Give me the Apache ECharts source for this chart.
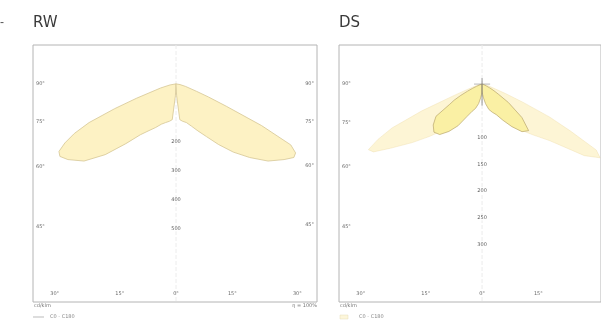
<!DOCTYPE html>
<html><head><meta charset="utf-8">
<script src="https://cdn.jsdelivr.net/npm/echarts@6/dist/echarts.min.js"></script>
<style>html,body{margin:0;padding:0;background:#fff}#c{width:601px;height:322px}</style>
</head><body><div id="c"></div>
<script>
// polar angles (degrees from nadir)
const gammaDeg = [0, 3, 6, 10, 15, 20, 25, 30, 35, 40, 45, 50, 55, 58, 60, 62, 64, 66, 68, 70, 75, 80, 90];
// RW luminous intensity (cd/klm)
const rwC0   = [0, 41, 124, 131, 138, 155, 179, 210, 255, 307, 359, 414, 455, 479, 476, 448, 328, 190, 121, 76, 34, 14, 0];
const rwC180 = [0, 41, 124, 131, 138, 148, 166, 186, 214, 269, 345, 414, 455, 472, 466, 434, 390, 328, 228, 145, 55, 21, 0];
// DS luminous intensity (cd/klm)
const dsOuterC0   = [0, 7, 15, 24, 34, 45, 56, 71, 90, 112, 134, 164, 233, 260, 246, 187, 140, 84, 47, 26, 11, 4, 0];
const dsOuterC180 = [0, 7, 15, 24, 34, 45, 56, 71, 90, 112, 138, 170, 209, 239, 245, 220, 187, 123, 54, 28, 11, 4, 0];
const dsInnerC90  = [13, 19, 26, 37, 49, 56, 63, 78, 97, 116, 123, 97, 60, 37, 28, 21, 15, 9, 6, 4, 2, 0, 0];
const dsInnerC270 = [13, 19, 26, 37, 47, 54, 67, 90, 108, 123, 127, 119, 105, 71, 60, 45, 30, 19, 11, 6, 2, 0, 0];
// tick labels
const sideAngles = [90, 75, 60, 45];
const bottomAngles = [-30, -15, 0, 15, 30];
const rwRings = [200, 300, 400, 500];
const dsRings = [100, 150, 200, 250, 300];
const titles = ['RW', 'DS'];

const panels = [
  {xMin: -493, xMax: 486, yMin: -752, yMax: 134, pxPerUnit: 0.29, rings: rwRings, rightLabels: true,
   lobes: [
     {c: rwC180, side: -1, fill: '#fdf2c4', stroke: '#d6c694', lw: 0.8},
     {c: rwC0, side: 1, fill: '#fdf2c4', stroke: '#d6c694', lw: 0.8}
   ]},
  {xMin: -267, xMax: 222, yMin: -407, yMax: 73, pxPerUnit: 0.5356, rings: dsRings, rightLabels: false,
   lobes: [
     {c: dsOuterC180, side: -1, fill: 'rgba(252,236,178,0.55)', stroke: 'rgba(235,215,160,0.6)', lw: 0.6},
     {c: dsOuterC0, side: 1, fill: 'rgba(252,236,178,0.55)', stroke: 'rgba(235,215,160,0.6)', lw: 0.6},
     {c: dsInnerC270, side: -1, fill: '#faf0a4', stroke: '#b9a66c', lw: 0.7},
     {c: dsInnerC90, side: 1, fill: '#faf0a4', stroke: '#b9a66c', lw: 0.7}
   ]}
];

const rad = d => d * Math.PI / 180;
function lobePoints(c, side) {
  return gammaDeg.map((g, i) => [side * c[i] * Math.sin(rad(g)), -c[i] * Math.cos(rad(g))]);
}

const grids = [
  {left: 33, top: 45, width: 284, height: 257},
  {left: 339, top: 45, width: 262, height: 257}
];

const series = [];
panels.forEach((p, pi) => {
  // centre line
  series.push({type: 'line', xAxisIndex: pi, yAxisIndex: pi, silent: true, symbol: 'none',
    data: [[0, p.yMax], [0, p.yMin]], lineStyle: {color: '#ececec', width: 1, type: 'dashed'}, z: 1});
  // lobes
  const lobes = p.lobes.map(l => ({pts: lobePoints(l.c, l.side), l}));
  series.push({type: 'custom', xAxisIndex: pi, yAxisIndex: pi, silent: true, z: 2, clip: true,
    data: lobes.map((_, i) => [i, 0]),
    renderItem: (params, api) => {
      const lb = lobes[api.value(0)];
      return {type: 'polygon', shape: {points: lb.pts.map(pt => api.coord(pt))},
        style: {fill: lb.l.fill, stroke: lb.l.stroke, lineWidth: lb.l.lw}};
    }});
  // labels
  const lab = [];
  const padB = 8 / p.pxPerUnit;
  sideAngles.forEach(a => {
    const cot = Math.cos(rad(a)) / Math.sin(rad(a));
    lab.push({value: [p.xMin, p.xMin * cot], name: a + '°', label: {align: 'left', offset: [3, 0]}});
    if (p.rightLabels) lab.push({value: [p.xMax, -p.xMax * cot], name: a + '°', label: {align: 'right', offset: [-3, 0]}});
  });
  bottomAngles.forEach(a => {
    const y = p.yMin + padB;
    lab.push({value: [-y * Math.tan(rad(a)), y], name: Math.abs(a) + '°', label: {align: 'center'}});
  });
  p.rings.forEach(r => lab.push({value: [0, -r], name: String(r), label: {align: 'center', backgroundColor: '#fff', color: '#333'}}));
  series.push({type: 'scatter', xAxisIndex: pi, yAxisIndex: pi, silent: true, symbolSize: 0, z: 5,
    data: lab, label: {show: true, position: 'inside', formatter: '{b}', fontSize: 5,
      fontFamily: 'DejaVu Sans', color: '#444', verticalAlign: 'middle'}});
});
// apex mark on DS
series.push({type: 'line', xAxisIndex: 1, yAxisIndex: 1, silent: true, symbol: 'none', z: 6,
  data: [[0, 11], [0, -40]], lineStyle: {color: '#777', width: 0.8}});
series.push({type: 'line', xAxisIndex: 1, yAxisIndex: 1, silent: true, symbol: 'none', z: 6,
  data: [[-15, 0], [15, 0]], lineStyle: {color: '#888', width: 0.6}});

const chart = echarts.init(document.getElementById('c'), null, {renderer: 'canvas'});
chart.setOption({
  animation: false,
  backgroundColor: '#fff',
  grid: grids.map(g => Object.assign({show: true, borderColor: '#b4b4b4', borderWidth: 1, backgroundColor: '#fff'}, g)),
  xAxis: panels.map((p, i) => ({type: 'value', gridIndex: i, min: p.xMin, max: p.xMax,
    axisLine: {show: false}, axisTick: {show: false}, axisLabel: {show: false}, splitLine: {show: false}})),
  yAxis: panels.map((p, i) => ({type: 'value', gridIndex: i, min: p.yMin, max: p.yMax,
    axisLine: {show: false}, axisTick: {show: false}, axisLabel: {show: false}, splitLine: {show: false}})),
  title: [
    {text: titles[0], left: 28, top: 11, textStyle: {fontSize: 15, fontWeight: 'normal', color: '#3a3a3a', fontFamily: 'DejaVu Sans'}},
    {text: titles[1], left: 334, top: 11, textStyle: {fontSize: 15, fontWeight: 'normal', color: '#3a3a3a', fontFamily: 'DejaVu Sans'}}
  ],
  graphic: [
    {type: 'text', left: 0, top: 17, style: {text: '-', fontSize: 12, fill: '#555'}},
    {type: 'text', left: 34, top: 303, style: {text: 'cd/klm', fontSize: 5, fill: '#777', fontFamily: 'DejaVu Sans'}},
    {type: 'text', right: 601 - 317, top: 303, style: {text: 'η = 100%', fontSize: 5, fill: '#777', fontFamily: 'DejaVu Sans'}},
    {type: 'line', shape: {x1: 33, y1: 317, x2: 44, y2: 317}, style: {stroke: '#bbb', lineWidth: 1}},
    {type: 'text', left: 50, top: 314, style: {text: 'C0 - C180', fontSize: 5, fill: '#888', fontFamily: 'DejaVu Sans'}},
    {type: 'text', left: 340, top: 303, style: {text: 'cd/klm', fontSize: 5, fill: '#777', fontFamily: 'DejaVu Sans'}},
    {type: 'rect', shape: {x: 340, y: 315, width: 8, height: 4}, style: {fill: '#fdf6da', stroke: '#e6dcb8', lineWidth: 0.5}},
    {type: 'text', left: 359, top: 314, style: {text: 'C0 - C180', fontSize: 5, fill: '#888', fontFamily: 'DejaVu Sans'}}
  ],
  series: series
});
</script></body></html>
